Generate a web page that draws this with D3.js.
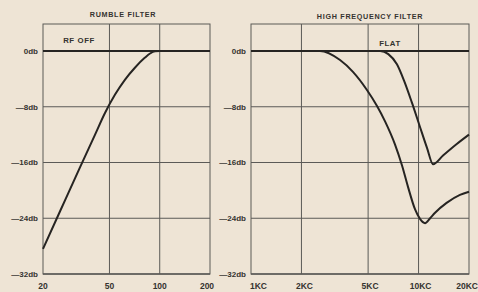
<!DOCTYPE html>
<html><head><meta charset="utf-8">
<script src="https://cdn.jsdelivr.net/npm/d3@7"></script>
<style>
html,body{margin:0;padding:0;background:#eee4d5;}
svg{display:block;}
text{font-family:"Liberation Sans",Arial,sans-serif;font-weight:bold;fill:#353330;}
</style></head><body>
<svg id="c" width="478" height="292"></svg>
<script>
// ---- data ----
const dbTicks = [0, -8, -16, -24, -32];
const dbTickLabels = ["0db", "\u20148db", "\u201416db", "\u201424db", "\u201432db"];

const rumbleTicks = [20, 50, 100, 200];
const rumbleTickLabels = ["20", "50", "100", "200"];
const rumbleFreq = [20, 25.3, 33.3, 41, 47, 54, 62, 71, 81.6, 87.5, 93.7, 100, 200];
const rumbleDb   = [-28.4, -23.0, -16.7, -12.0, -8.9, -6.25, -4.1, -2.4, -0.95, -0.36, -0.04, 0, 0];

const hfTicks = [1, 2, 5, 10, 20];
const hfTickLabels = ["1KC", "2KC", "5KC", "10KC", "20KC"];
const hfFreqA = [1, 2.58, 3.4, 4.06, 4.92, 5.65, 6.31, 7.23, 7.96, 8.65, 9.52, 10.2, 10.93, 11.72, 12.5, 14.7, 17.66, 20];
const hfDbA   = [0, 0, -1.3, -3.0, -5.6, -7.9, -10.1, -13.4, -16.4, -19.5, -22.7, -24.1, -24.7, -24.0, -23.25, -21.8, -20.65, -20.2];
const hfFreqB = [1, 5.9, 6.6, 7.43, 8.19, 9.14, 10.2, 11.23, 12.2, 14.0, 16.9, 20];
const hfDbB   = [0, 0, -0.45, -1.9, -4.25, -7.45, -10.9, -13.9, -16.25, -15.0, -13.35, -12.0];

// ---- drawing ----
const svg = d3.select("#c");
const yTop = 24, y = d3.scaleLinear().domain([-32, 0]).range([274, 51]);
const gridCol = "#5b5a57", curveCol = "#262422";

function panel(opts) {
  const x = d3.scaleLog().domain(opts.domain).range(opts.range);
  const g = svg.append("g");
  const [x0, x1] = opts.range;
  g.append("rect").attr("x", x0).attr("y", yTop).attr("width", x1 - x0).attr("height", y(-32) - yTop)
    .attr("fill", "none").attr("stroke", gridCol).attr("stroke-width", 1);
  g.selectAll("line.v").data(opts.ticks.slice(1, -1)).join("line")
    .attr("x1", d => x(d)).attr("x2", d => x(d)).attr("y1", yTop).attr("y2", y(-32))
    .attr("stroke", gridCol).attr("stroke-width", 1);
  g.selectAll("line.h").data(dbTicks).join("line")
    .attr("x1", x0).attr("x2", x1).attr("y1", d => y(d)).attr("y2", d => y(d))
    .attr("stroke", d => d === 0 ? curveCol : gridCol)
    .attr("stroke-width", d => d === 0 ? 2.2 : (d === -32 ? 1.4 : 1));
  g.selectAll("text.y").data(dbTicks).join("text")
    .attr("x", x0 - 5).attr("y", d => y(d)).attr("dy", "0.35em")
    .attr("text-anchor", "end").attr("font-size", 8)
    .text((d, i) => dbTickLabels[i]);
  g.selectAll("text.x").data(opts.ticks).join("text")
    .attr("x", (d, i) => x(d) + opts.labelDx[i]).attr("y", 289)
    .attr("text-anchor", (d, i) => opts.anchors[i]).attr("font-size", 8.5)
    .text((d, i) => opts.tickLabels[i]);
  g.append("text").attr("x", opts.titleX).attr("y", opts.titleY).attr("text-anchor", "middle")
    .attr("font-size", 7.2).attr("letter-spacing", 0.7).text(opts.title);
  g.append("text").attr("x", opts.noteX).attr("y", opts.noteY).attr("text-anchor", "middle")
    .attr("font-size", 7.8).attr("letter-spacing", 0.6).text(opts.note);
  const line = d3.line().x(d => x(d[0])).y(d => y(d[1])).curve(d3.curveMonotoneX);
  opts.series.forEach(s => {
    g.append("path").attr("d", line(d3.zip(s[0], s[1])))
      .attr("fill", "none").attr("stroke", curveCol).attr("stroke-width", 2)
      .attr("stroke-linejoin", "round");
  });
}

panel({
  domain: [20, 200], range: [43, 210], ticks: rumbleTicks, tickLabels: rumbleTickLabels,
  labelDx: [0, 0, 0, -3], anchors: ["middle", "middle", "middle", "middle"],
  title: "RUMBLE FILTER", titleX: 123, titleY: 17, note: "RF OFF", noteX: 79, noteY: 43,
  series: [[rumbleFreq, rumbleDb]]
});
panel({
  domain: [1, 20], range: [251, 469], ticks: hfTicks, tickLabels: hfTickLabels,
  labelDx: [-1, 3, 2, 2, 9], anchors: ["start", "middle", "middle", "middle", "end"],
  title: "HIGH FREQUENCY FILTER", titleX: 370, titleY: 19, note: "FLAT", noteX: 390, noteY: 46,
  series: [[hfFreqA, hfDbA], [hfFreqB, hfDbB]]
});
</script>
</body></html>
